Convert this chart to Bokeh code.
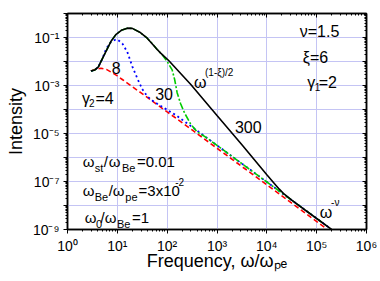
from bokeh.plotting import figure
from bokeh.models import LogAxis, FixedTicker, ColumnDataSource
from bokeh.embed import file_html
from bokeh.resources import INLINE
from bokeh.core.properties import value

# ---- data (log10 of frequency and of intensity) ----
# gamma2 = 300 (black solid)
g300_logf = [0.47, 0.55, 0.62, 0.70, 0.78, 0.87, 0.97, 1.08, 1.20, 1.30, 1.45, 1.60, 1.80,
             1.87, 2.03, 2.47, 3.00, 3.50, 4.00, 4.15, 4.25, 4.35, 4.50, 4.80, 5.30]
g300_logI = [-2.40, -2.35, -2.22, -1.88, -1.55, -1.17, -0.88, -0.70, -0.61, -0.62, -0.78, -1.03, -1.50,
             -1.65, -1.96, -2.95, -4.25, -5.47, -6.72, -7.08, -7.32, -7.53, -7.78, -8.24, -9.00]
# gamma2 = 30 (green dash-dot)
g30_logf = [0.47, 0.55, 0.62, 0.70, 0.78, 0.87, 0.97, 1.08, 1.20, 1.30, 1.45, 1.60, 1.70, 1.80,
            1.90, 2.00, 2.10, 2.15, 2.20, 2.27, 2.35, 2.47, 2.60, 2.75, 3.07, 3.60, 4.00, 4.50, 5.00, 5.20]
g30_logI = [-2.40, -2.35, -2.22, -1.88, -1.55, -1.17, -0.88, -0.70, -0.61, -0.62, -0.78, -1.03, -1.25, -1.50,
            -1.72, -2.00, -2.35, -2.75, -3.30, -3.76, -4.15, -4.60, -4.93, -5.12, -5.60, -6.41, -7.02, -7.78, -8.54, -8.85]
# gamma2 = 8 (blue dotted)
g8_logf = [0.47, 0.55, 0.62, 0.70, 0.78, 0.87, 0.95, 1.00, 1.10, 1.20, 1.30, 1.40, 1.50, 1.60, 1.70, 1.80,
           1.95, 2.20, 2.50, 3.07, 3.60, 4.00, 4.50, 5.00, 5.25]
g8_logI = [-2.40, -2.35, -2.22, -1.88, -1.45, -1.20, -1.10, -1.08, -1.25, -1.60, -2.20, -2.70, -3.15, -3.45, -3.62, -3.76,
           -3.95, -4.27, -4.73, -5.60, -6.41, -7.02, -7.78, -8.54, -8.92]
# gamma2 = 4 (red dashed)
g4_logf = [0.47, 0.55, 0.67, 0.78, 0.90, 1.00, 1.10, 1.20, 1.30, 1.47, 2.00, 2.50, 3.07, 3.60, 4.00, 4.50, 5.20]
g4_logI = [-2.40, -2.33, -2.28, -2.33, -2.47, -2.60, -2.75, -2.90, -3.05, -3.30, -4.10, -4.85, -5.72, -6.53, -7.14, -7.90, -8.97]

# ---- ticks ----
x_major = [1.0, 10.0, 100.0, 1e3, 1e4, 1e5, 1e6]
x_labels = ["10\u2070", "10\u00b9", "10\u00b2", "10\u00b3", "10\u2074", "10\u2075", "10\u2076"]
y_major = [1e-9, 1e-8, 1e-7, 1e-6, 1e-5, 1e-4, 1e-3, 1e-2, 1e-1, 1.0]
y_labels = ["10\u207b\u2079", "", "10\u207b\u2077", "", "10\u207b\u2075", "", "10\u207b\u00b3", "", "10\u207b\u00b9", ""]
x_minor = [m * 10.0 ** k for k in range(0, 6) for m in range(2, 10)]
y_minor = [m * 10.0 ** k for k in range(-9, 0) for m in range(2, 10)]

FONT = "Liberation Sans"

p = figure(x_axis_type="log", y_axis_type="log", x_range=(1, 1e6), y_range=(1e-9, 1),
           width=380, height=281,
           min_border_left=67, min_border_top=13, min_border_right=14, min_border_bottom=52,
           output_backend="svg", toolbar_location=None)
p.background_fill_color = "white"
p.border_fill_color = "white"
p.outline_line_color = "black"
p.outline_line_width = 1.5

xt = FixedTicker(ticks=x_major, minor_ticks=x_minor)
yt = FixedTicker(ticks=y_major, minor_ticks=y_minor)

for ax, t, labs, vals in ((p.xaxis[0], xt, x_labels, x_major), (p.yaxis[0], yt, y_labels, y_major)):
    ax.ticker = t
    ax.major_label_overrides = {v: l for v, l in zip(vals, labs)}
    ax.major_label_text_font = FONT
    ax.major_label_text_font_size = "14px"
    ax.major_label_text_color = "black"
    ax.axis_line_width = 1.5
    ax.major_tick_in = 0
    ax.major_tick_out = 4
    ax.minor_tick_in = 0
    ax.minor_tick_out = 2
    ax.axis_label_text_font = FONT
    ax.axis_label_text_font_size = "18px"
    ax.axis_label_text_font_style = "normal"
    ax.axis_label_text_color = "black"

p.xaxis[0].axis_label = "Frequency, \u03c9/\u03c9\u209a\u2091"
p.xaxis[0].major_label_standoff = 4
p.xaxis[0].axis_label_standoff = -6
p.yaxis[0].axis_label = "Intensity"
p.yaxis[0].major_label_standoff = 4
p.yaxis[0].axis_label_standoff = 4

for loc, t, vals in (("above", xt, x_major), ("right", yt, y_major)):
    ax = LogAxis(ticker=t, major_label_overrides={v: "" for v in vals},
                 major_tick_in=4, major_tick_out=0, minor_tick_in=2, minor_tick_out=0,
                 major_label_standoff=0, axis_line_width=1.5,
                 major_label_text_font_size="1px")
    p.add_layout(ax, loc)

p.xgrid[0].ticker = xt
p.ygrid[0].ticker = yt
p.grid.grid_line_color = "#c4c4f4"
p.grid.grid_line_width = 1

def curve(lf, li):
    return ColumnDataSource(dict(x=[10 ** v for v in lf], y=[10 ** v for v in li]))

p.line("x", "y", source=curve(g4_logf, g4_logI), line_color="#ff0000", line_width=1.6, line_dash="5 3")
p.line("x", "y", source=curve(g8_logf, g8_logI), line_color="#0000ff", line_width=1.8, line_dash="2 3")
p.line("x", "y", source=curve(g30_logf, g30_logI), line_color="#00cc00", line_width=1.6, line_dash="7 2 2 2")
p.line("x", "y", source=curve(g300_logf, g300_logI), line_color="black", line_width=1.6)

# ---- annotations: (text, left px, baseline px, font px) in page pixels ----
def dx(px):
    return 10 ** ((px - 67.0) / 50.0)

def dy(py):
    return 10 ** (-(py - 13.0) / 24.0)

pieces = [
    ("\u03bd=1.5", 300, 30.5, 16),
    ("\u03be=6", 303, 57, 16),
    ("\u03b3", 307.5, 81.5, 16), ("1", 315, 86, 10), ("=2", 319, 81.5, 16),
    ("\u03c9", 194, 82, 16), ("(1-\u03be)/2", 205, 72, 10),
    ("300", 235, 126.5, 16),
    ("30", 155, 93.5, 16),
    ("8", 111.5, 67, 16),
    ("\u03b3", 81.5, 97.5, 16), ("2", 88.5, 102, 10), ("=4", 95, 97.5, 16),
    ("\u03c9", 320, 211.5, 16), ("-\u03bd", 331.5, 202, 10),
    ("\u03c9", 82.3, 160.7, 15), ("st", 94.3, 167.5, 11), ("/", 103.3, 160.7, 15),
    ("\u03c9", 108.3, 160.7, 15), ("Be", 121.7, 167.5, 11), ("=0.01", 136.7, 160.7, 15),
    ("\u03c9", 82.3, 190, 15), ("Be", 94.3, 196.5, 11), ("/", 108.3, 190, 15),
    ("\u03c9", 112.3, 190, 15), ("pe", 125, 196.5, 11), ("=3x10", 138.3, 190, 15), ("-2", 175, 181.5, 10),
    ("\u03c9", 84.3, 217.3, 15), ("0", 95.7, 223.3, 11), ("/", 100, 217.3, 15),
    ("\u03c9", 104.3, 217.3, 15), ("Be", 116.7, 223.3, 11), ("=1", 131.7, 217.3, 15),
]
src = ColumnDataSource(dict(
    x=[dx(a[1]) for a in pieces], y=[dy(a[2]) for a in pieces],
    text=[a[0] for a in pieces], size=["%gpx" % a[3] for a in pieces]))
p.text("x", "y", text="text", source=src, text_font=value(FONT), text_font_size="size",
       text_align="left", text_baseline="alphabetic", text_color="black")

open("out.html", "w").write(file_html(p, INLINE))
